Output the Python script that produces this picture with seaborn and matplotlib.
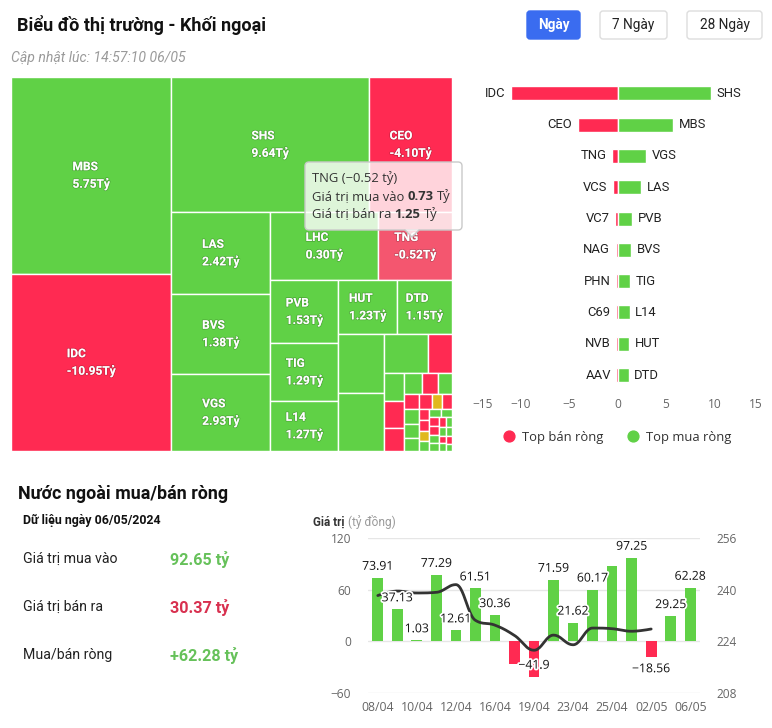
import math
import numpy as np
import pandas as pd
import matplotlib
matplotlib.use("Agg")
import matplotlib.pyplot as plt
import seaborn as sns
from matplotlib.patches import Rectangle, FancyBboxPatch, Polygon
from matplotlib.lines import Line2D
import matplotlib.patheffects as pe

# ---------------- DATA ----------------
title_text = "Biểu đồ thị trường - Khối ngoại"
update_text = "Cập nhật lúc: 14:57:10 06/05"
period_buttons = ["Ngày", "7 Ngày", "28 Ngày"]

tm_names = ["MBS", "IDC", "SHS", "CEO", "LAS", "BVS", "VGS", "LHC", "TNG",
            "PVB", "TIG", "L14", "HUT", "DTD"]
tm_net = [5.75, -10.95, 9.64, -4.10, 2.42, 1.38, 2.93, 0.30, -0.52,
          1.53, 1.29, 1.27, 1.23, 1.15]
tm_total = [12.40, 11.15, 10.52, 4.41, 3.19, 3.12, 3.00, 2.89, 1.98,
            1.69, 1.55, 1.34, 1.23, 1.17]
other_total = [1.07, 1.04, 0.67, 0.36, 0.22, 0.21, 0.18, 0.15, 0.13, 0.12,
               0.089, 0.085, 0.083, 0.078, 0.074, 0.061, 0.056, 0.047, 0.044,
               0.041, 0.039, 0.038, 0.036, 0.034, 0.032, 0.031, 0.029, 0.028,
               0.026, 0.025, 0.023, 0.022, 0.021, 0.019, 0.017]
other_net = [0.95, 0.88, 0.52, -0.22, 0.15, -0.12, -0.10, 0.08, -0.07, 0.06,
             -0.05, 0.04, 0.05, 0.03, -0.04, 0.0, -0.03, -0.02, -0.03,
             0.0, 0.02, 0.02, 0.01, -0.02, -0.01, 0.02, 0.01, -0.01,
             0.01, 0.01, -0.01, 0.01, 0.01, -0.01, 0.01]
hover_name = "TNG"
tip_buy = 0.73
tip_sell = 1.25

sell_names = ["IDC", "CEO", "TNG", "VCS", "VC7", "NAG", "PHN", "C69", "NVB", "AAV"]
sell_vals = [-10.95, -4.10, -0.52, -0.45, -0.21, -0.18, -0.17, -0.15, -0.14, -0.12]
buy_names = ["SHS", "MBS", "VGS", "LAS", "PVB", "BVS", "TIG", "L14", "HUT", "DTD"]
buy_vals = [9.64, 5.75, 2.93, 2.42, 1.53, 1.38, 1.29, 1.27, 1.23, 1.15]
bar_ticks = [-15, -10, -5, 0, 5, 10, 15]
bar_tick_labels = ["−15", "−10", "−5", "0", "5", "10", "15"]
legend_labels = ["Top bán ròng", "Top mua ròng"]

section_title = "Nước ngoài mua/bán ròng"
data_date = "Dữ liệu ngày 06/05/2024"
stat_labels = ["Giá trị mua vào", "Giá trị bán ra", "Mua/bán ròng"]
stat_values = ["92.65 tỷ", "30.37 tỷ", "+62.28 tỷ"]

dates = ["08/04", "09/04", "10/04", "11/04", "12/04", "15/04", "16/04", "17/04",
         "19/04", "22/04", "23/04", "24/04", "25/04", "26/04", "02/05", "03/05", "06/05"]
net_flow = [73.91, 37.13, 1.03, 77.29, 12.61, 61.51, 30.36, -26.4, -41.9,
            71.59, 21.62, 60.17, 87.4, 97.25, -18.56, 29.25, 62.28]
index_line = [238.2, 239.6, 239.0, 239.2, 241.6, 230.5, 229.0, 225.8, 221.2,
              225.9, 222.9, 228.1, 227.9, 227.1, 227.8]
left_ticks = [-60, 0, 60, 120]
right_ticks = [208, 224, 240, 256]

# ---------------- STYLE ----------------
GREEN = "#60d146"
RED = "#ff2a52"
RED_HOVER = "#f4566f"
YELLOW = "#e0b81c"
sns.set_style("white")
plt.rcParams["font.family"] = ["Roboto", "DejaVu Sans"]
OPEN = ["Open Sans", "DejaVu Sans"]

W, H = 772, 728
fig = plt.figure(figsize=(W / 100, H / 100), dpi=100)
fig.patch.set_facecolor("white")


def ax_px(l, t, w, h):
    return fig.add_axes([l / W, 1 - (t + h) / H, w / W, h / H])


# ---------------- TREEMAP (squarified, alternating direction) ----------------
class Group:
    def __init__(self, h, w, d):
        self.height, self.width, self.direction = h, w, d
        self.total = 0.0
        self.nW = self.lW = self.nH = self.lH = 0.0
        self.elArr = []
        self.lR = math.nan
        self.nR = math.nan

    @staticmethod
    def ar(w, h):
        if not (w > 0 and h > 0):
            return math.nan
        return max(w / h, h / w)

    def add(self, el):
        prev = self.elArr[-1] if self.elArr else None
        self.total += el
        if self.direction == 0:
            self.lW = self.nW
            self.nW = self.total / self.height
            if prev is None:
                self.lR = self.nR = math.nan
            else:
                self.lR = self.ar(self.lW, prev / self.lW if self.lW else math.nan)
                self.nR = self.ar(self.nW, prev / self.nW)
        else:
            self.lH = self.nH
            self.nH = self.total / self.width
            if prev is None:
                self.lR = self.nR = math.nan
            else:
                self.lR = self.ar(prev / self.lH if self.lH else math.nan, self.lH)
                self.nR = self.ar(prev / self.nH, self.nH)
        self.elArr.append(el)

    def reset(self):
        self.nW = self.lW = 0.0
        self.elArr = []
        self.total = 0.0


def calc_points(last, group, out, plot):
    gW, gH = group.lW, group.lH
    keep = None
    if last:
        gW, gH = group.nW, group.nH
    else:
        keep = group.elArr[-1]
    end = len(group.elArr) - 1
    for i, p in enumerate(group.elArr):
        if last or i < end:
            if group.direction == 0:
                pw, ph = gW, p / gW
                out.append((plot["x"], plot["y"], pw, ph))
                plot["y"] += ph
            else:
                ph, pw = gH, p / gH
                out.append((plot["x"], plot["y"], pw, ph))
                plot["x"] += pw
    group.reset()
    if group.direction == 0:
        group.width -= gW
    else:
        group.height -= gH
    plot["y"] = plot["py"] + (plot["ph"] - group.height)
    plot["x"] = plot["px"] + (plot["pw"] - group.width)
    group.direction = 1 - group.direction
    if not last:
        group.add(keep)


def squarified(values, x, y, w, h):
    total = float(sum(values))
    ptot = w * h
    plot = dict(x=x, y=y, px=x, py=y, pw=w, ph=h)
    group = Group(h, w, 0)
    out = []
    for i, v in enumerate(values):
        group.add(ptot * v / total)
        if group.nR > group.lR:
            calc_points(False, group, out, plot)
        if i == len(values) - 1:
            calc_points(True, group, out, plot)
    return out


TW, TH = 441, 374
all_total = tm_total + other_total
all_net = tm_net + other_net
all_names = tm_names + [""] * len(other_total)
rects = squarified(all_total, 0, 0, TW, TH)

tm = ax_px(11, 77, TW, TH)
tm.set_xlim(0, TW)
tm.set_ylim(TH, 0)
tm.axis("off")
for (x, y, w, h), n, nm in zip(rects, all_net, all_names):
    c = GREEN if n > 0 else (RED if n < 0 else YELLOW)
    if nm == hover_name:
        c = RED_HOVER
    tm.add_patch(Rectangle((x, y), w, h, facecolor=c, edgecolor="white", lw=1.0))
    if nm:
        tm.text(x + w / 2, y + h / 2, f"{nm}\n{n:.2f}Tỷ", ha="center", va="center",
                multialignment="left", color="white", fontsize=8.6, fontweight="bold",
                linespacing=1.3,
                path_effects=[pe.withStroke(linewidth=1.2, foreground=(0, 0, 0, 0.18))])

# ---------------- TOP SELL/BUY BARS ----------------
bx = ax_px(472, 77.7, 291, 313)
rows = [f"r{i}" for i in range(len(sell_names))]
df_s = pd.DataFrame({"row": rows, "value": sell_vals})
df_b = pd.DataFrame({"row": rows, "value": buy_vals})
sns.barplot(data=df_s, x="value", y="row", order=rows, orient="h", color=RED,
            width=0.45, edgecolor="white", linewidth=1, saturation=1, ax=bx)
sns.barplot(data=df_b, x="value", y="row", order=rows, orient="h", color=GREEN,
            width=0.45, edgecolor="white", linewidth=1, saturation=1, ax=bx)
bx.set_xlim(-15, 15)
bx.set_ylim(len(rows) - 0.5, -0.5)
bx.set_xlabel("")
bx.set_ylabel("")
bx.set_yticks([])
bx.set_xticks(bar_ticks)
bx.set_xticklabels(bar_tick_labels, fontsize=8.6, color="#666666", family=OPEN)
tl = bx.get_xticklabels()
tl[0].set_ha("left")
tl[-1].set_ha("right")
bx.tick_params(axis="x", length=0, pad=5)
for s in bx.spines.values():
    s.set_visible(False)
bx.set_facecolor("none")
for i, (sn, sv, bn, bv) in enumerate(zip(sell_names, sell_vals, buy_names, buy_vals)):
    bx.text(min(sv, 0) - 0.57, i, sn, ha="right", va="center", fontsize=9.4, color="#222222")
    bx.text(max(bv, 0) + 0.57, i, bn, ha="left", va="center", fontsize=9.4, color="#222222")

handles = [Line2D([], [], marker="o", ls="", color=RED, markersize=7.8),
           Line2D([], [], marker="o", ls="", color=GREEN, markersize=7.8)]
fig.legend(handles, legend_labels, loc="center", ncol=2, frameon=False,
           bbox_to_anchor=(617 / W, 1 - 437 / H),
           prop={"family": OPEN, "size": 9.4}, labelcolor="#333333",
           handletextpad=0.45, columnspacing=1.8, handlelength=1.0)

# ---------------- COMBO CHART ----------------
cx = ax_px(368, 538.3, 332, 154.4)
dfc = pd.DataFrame({"date": dates, "value": net_flow})
sns.barplot(data=dfc, x="date", y="value", order=dates, color=GREEN,
            width=0.55, saturation=1, ax=cx, zorder=2)
for patch, v in zip(cx.patches, net_flow):
    patch.set_facecolor(GREEN if v >= 0 else RED)
    patch.set_edgecolor("none")
cx2 = cx.twinx()
cx.set_ylim(-60, 120)
cx.set_xlim(-0.5, len(dates) - 0.5)
cx.set_yticks(left_ticks)
cx.set_yticklabels([str(t).replace("-", "−") for t in left_ticks], fontsize=8.6,
                   color="#666666", family=OPEN)
cx.set_xticks(range(0, len(dates), 2))
cx.set_xticklabels(dates[::2], fontsize=8.8, color="#666666", family=OPEN)
cx.tick_params(axis="y", which="both", left=False, length=0, pad=12)
cx.tick_params(axis="x", which="both", bottom=False, length=0, pad=6)
cx.yaxis.grid(True, color="#e6e6e6", lw=1)
cx.set_axisbelow(True)
cx.set_xlabel("")
cx.set_ylabel("")
for s in cx.spines.values():
    s.set_visible(False)

cx2.set_ylim(208, 256)
cx2.set_yticks(right_ticks)
cx2.set_yticklabels([str(t) for t in right_ticks], fontsize=8.6, color="#666666", family=OPEN)
cx2.tick_params(axis="y", which="both", right=False, length=0, pad=12)
for s in cx2.spines.values():
    s.set_visible(False)


def spline_curve(xs, ys, n=24, smoothing=1.5):
    xs = np.asarray(xs, float)
    ys = np.asarray(ys, float)
    m = len(xs)
    lc = np.zeros((m, 2))
    rc = np.zeros((m, 2))
    for i in range(m):
        if i == 0 or i == m - 1:
            lc[i] = rc[i] = (xs[i], ys[i])
            continue
        d = smoothing + 1
        lx = (smoothing * xs[i] + xs[i - 1]) / d
        ly = (smoothing * ys[i] + ys[i - 1]) / d
        rx = (smoothing * xs[i] + xs[i + 1]) / d
        ry = (smoothing * ys[i] + ys[i + 1]) / d
        corr = (ry - ly) * (rx - xs[i]) / (rx - lx) + ys[i] - ry
        ly += corr
        ry += corr
        if ly > ys[i - 1] and ly > ys[i]:
            ly = max(ys[i - 1], ys[i]); ry = 2 * ys[i] - ly
        elif ly < ys[i - 1] and ly < ys[i]:
            ly = min(ys[i - 1], ys[i]); ry = 2 * ys[i] - ly
        if ry > ys[i + 1] and ry > ys[i]:
            ry = max(ys[i + 1], ys[i]); ly = 2 * ys[i] - ry
        elif ry < ys[i + 1] and ry < ys[i]:
            ry = min(ys[i + 1], ys[i]); ly = 2 * ys[i] - ry
        lc[i] = (lx, ly)
        rc[i] = (rx, ry)
    px, py = [xs[0]], [ys[0]]
    t = np.linspace(0, 1, n)[1:]
    for i in range(1, m):
        p0 = np.array([xs[i - 1], ys[i - 1]])
        p1 = rc[i - 1]
        p2 = lc[i]
        p3 = np.array([xs[i], ys[i]])
        pts = ((1 - t)[:, None] ** 3 * p0 + 3 * ((1 - t) ** 2 * t)[:, None] * p1
               + 3 * ((1 - t) * t ** 2)[:, None] * p2 + (t ** 3)[:, None] * p3)
        px.extend(pts[:, 0]); py.extend(pts[:, 1])
    return np.array(px), np.array(py)


sx, sy = spline_curve(np.arange(len(index_line)), index_line)
cx2.plot(sx, sy, color="#333333", lw=2, zorder=3, solid_capstyle="round")

renderer = fig.canvas.get_renderer()
off = 13.5
placed = []
order_idx = sorted(range(len(net_flow)), key=lambda i: -abs(net_flow[i]))
for i in order_idx:
    v = net_flow[i]
    ly = v + off if v >= 0 else v - off
    if ly - 8 < -60:
        ly = v + off + 0.5
    t = cx2.text(i, 224 + ly * 16 / 60, f"{v:g}".replace("-", "−"), ha="center", va="center",
                 fontsize=8.8, color="#111111", zorder=5, family=OPEN,
                 path_effects=[pe.withStroke(linewidth=2.5, foreground="white")])
    bb = t.get_window_extent(renderer=renderer)
    if any(bb.overlaps(o) for o in placed):
        t.remove()
    else:
        placed.append(bb)

# ---------------- OVERLAY ----------------
ov = fig.add_axes([0, 0, 1, 1])
ov.set_xlim(0, W)
ov.set_ylim(H, 0)
ov.axis("off")
ov.set_zorder(20)
ov.patch.set_alpha(0)

ov.text(17, 25, title_text, fontsize=13, fontweight="bold", color="#111111",
        ha="left", va="center")
ov.text(11, 58, update_text, fontsize=10.1, style="italic", color="#9a9a9a",
        ha="left", va="center")

btn_boxes = [(527, 11, 53, 28), (600, 11, 67, 28), (687, 11, 75, 28)]
for k, (lab, (bxl, bxt, bw, bh)) in enumerate(zip(period_buttons, btn_boxes)):
    active = k == 0
    ov.add_patch(FancyBboxPatch((bxl, bxt), bw, bh, boxstyle="round,pad=0,rounding_size=3",
                                facecolor="#3a6cf0" if active else "white",
                                edgecolor="#3a6cf0" if active else "#dddddd", lw=1))
    ov.text(bxl + bw / 2, bxt + bh / 2 + 0.5, lab, ha="center", va="center", fontsize=9.8,
            color="white" if active else "#222222", fontweight="bold" if active else "normal")

tip_l, tip_t, tip_w, tip_h = 305, 162, 157, 68
ov.add_patch(FancyBboxPatch((tip_l, tip_t), tip_w, tip_h,
                            boxstyle="round,pad=0,rounding_size=4",
                            facecolor=(1, 1, 1, 0.8), edgecolor="#c9c9c9", lw=1))
ax_tip = tip_l + 107
ov.add_patch(Polygon([(ax_tip - 7, tip_t + tip_h - 0.6), (ax_tip + 7, tip_t + tip_h - 0.6),
                      (ax_tip, tip_t + tip_h + 7)], closed=True,
                     facecolor=(1, 1, 1, 0.8), edgecolor="none"))
ov.plot([ax_tip - 7, ax_tip, ax_tip + 7], [tip_t + tip_h, tip_t + tip_h + 7, tip_t + tip_h],
        color="#c9c9c9", lw=1)

tip_net = tm_net[tm_names.index(hover_name)]


def runs(x, y, parts, size):
    sp_a = ov.text(0, -100, "x x", fontsize=size, family=OPEN)
    sp_b = ov.text(0, -100, "xx", fontsize=size, family=OPEN)
    space = sp_a.get_window_extent(renderer).width - sp_b.get_window_extent(renderer).width
    sp_a.remove(); sp_b.remove()
    for s, w in parts:
        t = ov.text(x, y, s, ha="left", va="center", fontsize=size, family=OPEN,
                    color="#333333", fontweight=w)
        x += t.get_window_extent(renderer).width + space


ov.text(312, 178.5, f"{hover_name} ({tip_net:.2f} tỷ)".replace("-", "−"),
        ha="left", va="center", fontsize=9.4, family=OPEN, color="#333333")
runs(312, 196.5, [("Giá trị mua vào", "normal"), (f"{tip_buy:.2f}", "bold"), ("Tỷ", "normal")], 9.4)
runs(312, 214, [("Giá trị bán ra", "normal"), (f"{tip_sell:.2f}", "bold"), ("Tỷ", "normal")], 9.4)

ov.text(18, 494, section_title, fontsize=12.9, fontweight="bold", color="#111111",
        ha="left", va="center")
ov.text(23, 520, data_date, fontsize=8.9, fontweight="bold", color="#111111",
        ha="left", va="center")
stat_colors = ["#66c15a", "#d8304f", "#66c15a"]
for k, (lab, val, col) in enumerate(zip(stat_labels, stat_values, stat_colors)):
    yy = 559 + 48 * k
    ov.text(23, yy, lab, fontsize=10.2, color="#222222", ha="left", va="center")
    ov.text(170, yy, val, fontsize=11.6, fontweight="bold", color=col, ha="left", va="center")

t1 = ov.text(313, 522, "Giá trị", fontsize=8.4, fontweight="bold", color="#333333",
             ha="left", va="center")
w1 = t1.get_window_extent(renderer).width
ov.text(313 + w1 + 3, 522, "(tỷ đồng)", fontsize=8.6, color="#9a9a9a", ha="left", va="center")

fig.savefig("out.png", dpi=100, facecolor="white")
